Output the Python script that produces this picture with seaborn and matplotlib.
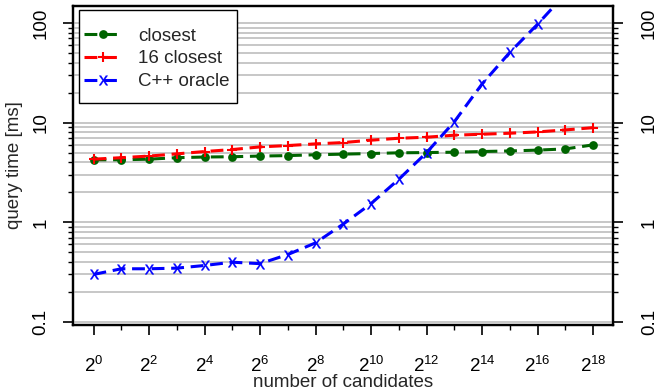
import numpy as np
import pandas as pd
import matplotlib
matplotlib.use("Agg")
import matplotlib.pyplot as plt
import seaborn as sns
from matplotlib.ticker import FixedLocator, FixedFormatter, NullFormatter, LogLocator
from matplotlib.patches import Rectangle

# ---- data ----
exponents = list(range(19))
closest = [4.24, 4.24, 4.30, 4.45, 4.52, 4.55, 4.62, 4.67, 4.76, 4.83, 4.90, 4.98, 5.01, 5.05, 5.13, 5.20, 5.30, 5.45, 5.98]
closest16 = [4.30, 4.45, 4.62, 4.86, 5.13, 5.37, 5.71, 5.89, 6.12, 6.31, 6.67, 6.97, 7.14, 7.48, 7.65, 7.83, 8.07, 8.45, 8.90]
oracle = [0.30, 0.342, 0.342, 0.347, 0.369, 0.398, 0.385, 0.475, 0.622, 0.96, 1.54, 2.70, 5.0, 10.2, 24.4, 50.6, 97.0, 195.0, 390.0]
series_names = ["closest", "16 closest", "C++ oracle"]
y_tick_values = [0.1, 1, 10, 100]
y_tick_labels = ["0.1", "1", "10", "100"]

FS = 13.5

sns.set_theme(style="white")
plt.rcParams["font.family"] = ["Liberation Sans", "DejaVu Sans"]
plt.rcParams["mathtext.default"] = "regular"

x = [2.0 ** e for e in exponents]
df = pd.DataFrame({
    "x": x * 3,
    "y": closest + closest16 + oracle,
    "series": [series_names[0]] * 19 + [series_names[1]] * 19 + [series_names[2]] * 19,
})

fig = plt.figure(figsize=(6.57, 3.92), dpi=100)
ax = fig.add_axes([73 / 657, 1 - 325 / 392, 540 / 657, 319 / 392])

styles = {
    "closest": dict(color="#006400", marker="o", ms=6.3, mew=0),
    "16 closest": dict(color="#FF0000", marker="+", ms=7.5, mew=1.5),
    "C++ oracle": dict(color="#0000FF", marker="$x$", ms=7, mew=0.2),
}
for name in series_names:
    st = styles[name]
    sub = df[df["series"] == name]
    sns.lineplot(data=sub, x="x", y="y", ax=ax, label=name, color=st["color"],
                 marker=st["marker"], markersize=st["ms"], markeredgewidth=st["mew"],
                 markeredgecolor=st["color"], markerfacecolor=st["color"],
                 linestyle=(0, (4.2, 2.2)), linewidth=2.2, sort=True)

ax.set_xscale("log", base=2)
ax.set_yscale("log")
ax.set_xlim(2 ** -0.74, 2 ** 18.72)
ylim = (10 ** (-1 - 0.03), 10 ** 2.17)
ax.set_ylim(*ylim)

# x ticks
ax.xaxis.set_major_locator(FixedLocator([2.0 ** e for e in exponents if e % 2 == 0]))
ax.xaxis.set_major_formatter(FixedFormatter([r"$2^{%d}$" % e for e in exponents if e % 2 == 0]))
ax.xaxis.set_minor_locator(FixedLocator([2.0 ** e for e in exponents if e % 2 == 1]))
ax.xaxis.set_minor_formatter(NullFormatter())

def setup_y(a):
    a.yaxis.set_major_locator(FixedLocator(y_tick_values))
    a.yaxis.set_major_formatter(FixedFormatter(y_tick_labels))
    a.yaxis.set_minor_locator(LogLocator(base=10, subs=range(2, 10), numticks=20))
    a.yaxis.set_minor_formatter(NullFormatter())

setup_y(ax)

ax.tick_params(axis="both", which="major", direction="out", length=7, width=1.2,
               colors="black", labelsize=FS, pad=10)
ax.tick_params(axis="x", which="major", pad=15)
ax.tick_params(axis="both", which="minor", direction="out", length=3.6, width=1.0, colors="black")
ax.tick_params(axis="y", which="both", left=True, right=False, labelleft=True, labelright=False)
ax.tick_params(axis="x", which="both", bottom=True)
for lab in ax.get_yticklabels():
    lab.set_rotation(90)
    lab.set_va("center")

# right axis (same scale)
ax2 = ax.twinx()
ax2.set_zorder(ax.get_zorder() - 1)
ax.patch.set_visible(False)
ax2.set_yscale("log")
ax2.set_ylim(*ylim)
setup_y(ax2)
ax2.tick_params(axis="y", which="major", direction="out", length=7, width=1.2,
                colors="black", labelsize=FS, pad=13, right=True, labelright=True)
ax2.tick_params(axis="y", which="minor", direction="out", length=3.6, width=1.0,
                colors="black", right=True)
for lab in ax2.get_yticklabels():
    lab.set_rotation(90)
    lab.set_va("center")
ax2.grid(False)

ax.yaxis.grid(True, which="both", color="#BEBEBE", linewidth=1.2)
ax.xaxis.grid(False)
ax.set_axisbelow(True)

for a in (ax, ax2):
    for sp in a.spines.values():
        sp.set_visible(True)
        sp.set_color("black")
        sp.set_linewidth(1.6)

ax.set_xlabel("number of candidates", fontsize=FS, labelpad=-1)
ax.set_ylabel("query time [ms]", fontsize=FS, labelpad=7)

leg = ax.legend(loc="upper left", bbox_to_anchor=(0.013, 0.944), frameon=False,
                handlelength=2.0, handletextpad=0.9,
                labelspacing=0.3, borderpad=0.2, fontsize=FS, numpoints=1, borderaxespad=0)
leg.set_zorder(6)

fig.canvas.draw()
bb = leg.get_window_extent()
pad_x_l, pad_x_r, pad_top, pad_bot = 1, 4, 14, 9
inv = ax.transAxes.inverted()
(x0, y0) = inv.transform((bb.x0 - pad_x_l, bb.y0 - pad_bot))
(x1, y1) = inv.transform((bb.x1 + pad_x_r, bb.y1 + pad_top))
rect = Rectangle((x0, y0), x1 - x0, y1 - y0, transform=ax.transAxes, facecolor="white",
                 edgecolor="black", linewidth=1.0, zorder=5, clip_on=False)
ax.add_patch(rect)

fig.savefig("out.png", dpi=100)
